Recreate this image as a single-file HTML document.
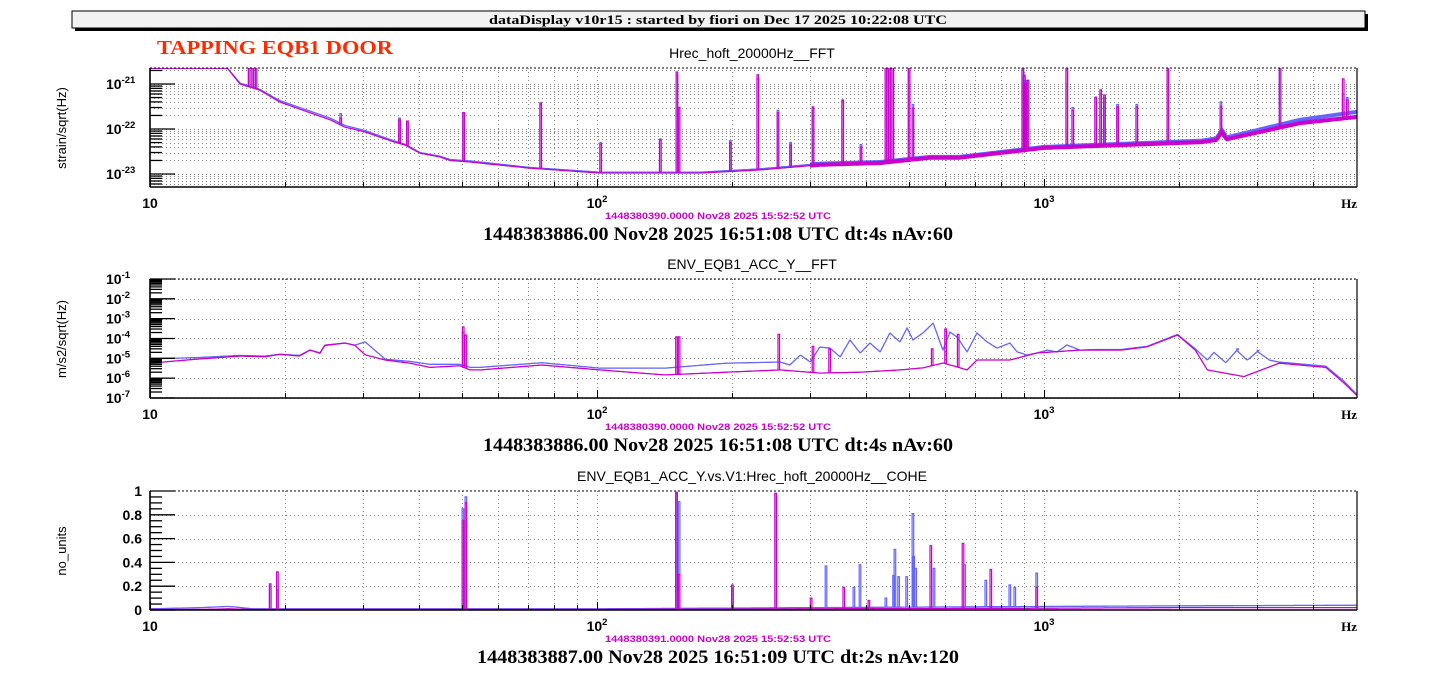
<!DOCTYPE html>
<html><head><meta charset="utf-8"><style>
html,body{margin:0;padding:0;background:#fff;}
svg{display:block;}
.ttl{font-family:"Liberation Sans",sans-serif;font-size:14px;fill:#000;}
.big{font-family:"Liberation Serif",serif;font-weight:bold;font-size:19px;fill:#000;}
.mag{font-family:"Liberation Sans",sans-serif;font-weight:bold;font-size:9.5px;fill:#cc00cc;}
.tl{font-family:"Liberation Sans",sans-serif;font-weight:bold;font-size:14px;fill:#000;}
.sup{font-size:9.5px;}
.yt{font-family:"Liberation Sans",sans-serif;font-size:13px;fill:#000;}
</style></head><body>
<svg id="chart" width="1436" height="675" viewBox="0 0 1436 675" xmlns="http://www.w3.org/2000/svg">
<g>
<rect x="75" y="14" width="1293" height="17" fill="#000"/>
<rect x="72" y="11" width="1293" height="17" fill="#f2f2f2" stroke="#000" stroke-width="1"/>
<text x="718" y="24" text-anchor="middle" font-family="Liberation Serif, serif" font-weight="bold" font-size="13" textLength="458" lengthAdjust="spacingAndGlyphs">dataDisplay v10r15 : started by fiori on Dec 17 2025 10:22:08 UTC</text>
</g>
<text x="157" y="54" font-family="Liberation Serif, serif" font-weight="bold" font-size="20" fill="#ff2a00" textLength="236" lengthAdjust="spacingAndGlyphs">TAPPING EQB1 DOOR</text>
<g id="plots"></g>
</svg>
<script>
// ---------- Panel 1: Hrec_hoft FFT (strain/sqrt(Hz)) ----------
const p1Freq=[10,14.9,15.9,17.6,19.5,22.8,25.3,27.3,30.3,32.7,35.3,37.2,40.2,44.5,46.9,52,54.8,70.7,101.5,170,231,315,430,556,646,1000,2250,2430,2500,2560,3740,5000];
const p1Mag=[2.25e-21,2.25e-21,1.0e-21,7.3e-22,4e-22,2.3e-22,1.6e-22,1.1e-22,8.6e-23,6.6e-23,5.1e-23,4.4e-23,2.9e-23,2.4e-23,2e-23,1.85e-23,1.75e-23,1.35e-23,1.05e-23,1.05e-23,1.23e-23,1.6e-23,1.75e-23,2.3e-23,2.3e-23,3.8e-23,5.1e-23,5.7e-23,8.6e-23,5.9e-23,1.35e-22,1.85e-22];
const p1Blue=[2.25e-21,2.25e-21,1.05e-21,7.6e-22,4.3e-22,2.5e-22,1.75e-22,1.2e-22,9.2e-23,7e-23,5.4e-23,4.6e-23,3.0e-23,2.5e-23,2.1e-23,1.95e-23,1.85e-23,1.4e-23,1.1e-23,1.1e-23,1.3e-23,1.7e-23,1.85e-23,2.4e-23,2.4e-23,4.0e-23,5.5e-23,6.2e-23,9.5e-23,6.5e-23,1.6e-22,2.4e-22];
const p1PeakFreq=[16.6,16.9,17.2,26.6,36,37.5,50.1,74.5,101.5,138,150.3,152,198,228,253,270,303,353,388,441,445,449,453,457,497,507,893,900,905,917,1120,1155,1300,1334,1360,1455,1606,1885,2477,3360,4650,4750];
const p1PeakMag=[2.25e-21,2.25e-21,2.25e-21,1.75e-22,1.6e-22,1.5e-22,2.3e-22,3.8e-22,4.6e-23,5.7e-23,1.85e-21,3e-22,5e-23,1.6e-21,2.3e-22,4.4e-23,3.1e-22,4.4e-22,4e-23,5e-21,5e-21,5e-21,5e-21,5e-21,5e-21,2.9e-22,2.05e-21,1.5e-21,1e-21,1.2e-21,5e-21,2.6e-22,5.1e-22,7.4e-22,5.7e-22,3.1e-22,3.1e-22,5e-21,3.2e-22,5e-21,1.3e-21,4.4e-22];
const p1PeakBlue=[2.25e-21,2.25e-21,2.25e-21,2.2e-22,1.75e-22,1.5e-22,2.3e-22,3.5e-22,5e-23,6e-23,1.6e-21,3e-22,5.5e-23,1.3e-21,2.6e-22,5e-23,2.8e-22,4.2e-22,4.5e-23,5e-21,5e-21,5e-21,5e-21,5e-21,5e-21,3.5e-22,2.2e-21,1.6e-21,1.2e-21,1.2e-21,4e-21,3e-22,5e-22,6e-22,5e-22,3.5e-22,3.5e-22,2e-21,4e-22,5e-21,6e-22,5e-22];
const p1YTicks=[-21,-22,-23];

// ---------- Panel 2: ENV_EQB1_ACC_Y FFT ----------
const p2MagFreq=[10,12.9,15.9,18.1,19.5,21.6,22.8,24.0,24.6,27.3,28.7,30.3,33.6,38.1,42.3,49.3,52,54.8,75.2,101.5,142,195,257,315,388,476,536,594,639,673,708,839,964,1204,1310,1490,1700,1990,2180,2320,2800,3360,4270,4690,5000];
const p2Mag=[5.7e-6,9.3e-6,1.3e-5,1.2e-5,1.6e-5,1.3e-5,2.6e-5,1.8e-5,4.6e-5,5.9e-5,4.6e-5,1.5e-5,8.2e-6,5.7e-6,3.5e-6,4.2e-6,2.6e-6,2.6e-6,4.6e-6,2.6e-6,1.45e-6,2e-6,2.6e-6,1.8e-6,2e-6,2.6e-6,3.3e-6,5.8e-6,3.7e-6,2.6e-6,8.2e-6,8.2e-6,1.85e-5,2.6e-5,2.6e-5,2.6e-5,3.8e-5,1.5e-4,2.6e-5,2.6e-6,1.2e-6,5.7e-6,3.5e-6,5.7e-7,1.4e-7];
const p2BlueFreq=[10,12.9,15.9,18.1,19.5,21.6,22.8,24.0,24.6,27.3,28.7,30.3,33.6,38.1,42.3,49.3,52,54.8,75.2,101.5,142,195,257,270,285,300,315,332,350,368,388,408,430,452,476,494,509,536,565,594,616,639,673,708,746,785,839,871,916,964,1016,1069,1126,1204,1310,1490,1700,1990,2180,2320,2400,2550,2700,2850,3000,3200,3360,4270,4690,5000];
const p2Blue=[9.3e-6,1.1e-5,1.4e-5,1.3e-5,1.6e-5,1.4e-5,2.6e-5,1.9e-5,4.4e-5,5.9e-5,4.6e-5,6.7e-5,9e-6,7e-6,5e-6,5e-6,3.5e-6,3.5e-6,6e-6,3.2e-6,3.2e-6,5.7e-6,6.5e-6,4.6e-6,1.47e-5,6.5e-6,3.7e-5,3.3e-5,1.17e-5,8.4e-5,1.85e-5,5.9e-5,2.1e-5,1.9e-4,6.7e-5,3.4e-4,8.4e-5,1.9e-4,6e-4,2.6e-5,2.1e-4,1.19e-4,2.1e-5,1.9e-4,6.7e-5,3.3e-5,5.9e-5,2.1e-5,1.47e-5,1.85e-5,2.6e-5,2.1e-5,4.7e-5,2.6e-5,2.8e-5,2.8e-5,4e-5,1.6e-4,3e-5,8.2e-6,2e-5,6e-6,2.5e-5,8e-6,2.2e-5,8e-6,6.5e-6,4e-6,7e-7,1.6e-7];
const p2MagPeakFreq=[50,50.7,150,152,254,303,330,560,600,640];
const p2MagPeakVal=[3.8e-4,1.5e-4,1.2e-4,1.2e-4,1.6e-4,4e-5,3e-5,3e-5,3e-4,1.6e-4];
const p2BluePeakFreq=[50,2700,3000];
const p2BluePeakVal=[2e-4,3e-5,2.5e-5];
const p2YTicks=[-1,-2,-3,-4,-5,-6,-7];

// ---------- Panel 3: coherence ----------
const p3Freq=[10,13,15,17,20,50,100,300,1000,2000,5000];
const p3Mag=[0.005,0.005,0.01,0.005,0.005,0.005,0.005,0.01,0.015,0.02,0.02];
const p3Blue=[0.01,0.02,0.03,0.01,0.01,0.01,0.01,0.02,0.03,0.035,0.04];
const p3MagPeakFreq=[18.5,19.2,49.9,50.7,150,152,200,250,300,355,404,556,656,757,959];
const p3MagPeakVal=[0.22,0.32,0.75,0.9,0.99,0.3,0.21,0.98,0.1,0.19,0.08,0.54,0.56,0.34,0.19];
const p3BluePeakFreq=[18.5,19.2,49.9,50.7,150,152,200,250,324,374,386,441,459,462,471,491,507,509,514,565,662,738,835,857,959];
const p3BluePeakVal=[0.2,0.17,0.85,0.95,0.98,0.91,0.18,0.98,0.37,0.19,0.38,0.1,0.29,0.51,0.28,0.28,0.81,0.45,0.35,0.35,0.38,0.25,0.21,0.19,0.31];
const p3YTicks=[0,0.2,0.4,0.6,0.8,1];

const BLUE='#6464ff', MAG='#cc00cc';
const X0=150, X1=1357, DEC=447;
const NS='http://www.w3.org/2000/svg';
function xOf(f){return X0+DEC*Math.log10(f/10);}
function fOf(x){return 10*Math.pow(10,(x-X0)/DEC);}
function interpLog(fr,vals,f,lin){
  if(f<=fr[0])return vals[0];
  for(let i=1;i<fr.length;i++){ if(f<=fr[i]){
    const t=(Math.log10(f)-Math.log10(fr[i-1]))/(Math.log10(fr[i])-Math.log10(fr[i-1]));
    if(lin) return vals[i-1]+t*(vals[i]-vals[i-1]);
    return Math.pow(10,Math.log10(vals[i-1])+t*(Math.log10(vals[i])-Math.log10(vals[i-1])));
  }}
  return vals[vals.length-1];
}
function el(tag,attrs,parent){const e=document.createElementNS(NS,tag);for(const k in attrs)e.setAttribute(k,attrs[k]);parent.appendChild(e);return e;}
const root=document.getElementById('plots');

function panel(cfg){
  const g=el('g',{},root);
  
  
  const top=cfg.top, bot=cfg.top+119;
  const cid='clip'+cfg.top;
  const cp=el('clipPath',{id:cid},g); el('rect',{x:X0,y:top,width:X1-X0,height:119},cp);
  const grid=el('g',{stroke:'#888','stroke-width':1,'stroke-dasharray':'1,3',fill:'none'},g);
  
  
  const xt=[];
  for(let d=10;d<=1000;d*=10)for(let m=1;m<10;m++){const f=d*m;if(f>10&&f<5000)xt.push(f);}
  xt.forEach(f=>{const x=Math.round(xOf(f))+0.5;el('line',{x1:x,y1:top,x2:x,y2:bot},grid);});
  cfg.hgrid.forEach(y=>{el('line',{x1:X0,y1:y,x2:X1,y2:y},grid);});
  const t=el('text',{x:752,y:top-10,'text-anchor':'middle',class:'ttl'},g);t.textContent=cfg.title;
  
  
  const yt=el('text',{x:0,y:0,'text-anchor':'middle',class:'yt',transform:`translate(66,${top+60}) rotate(-90)`},g);yt.textContent=cfg.ytitle;
  
  
  const sg=el('g',{'clip-path':`url(#${cid})`,fill:'none'},g);
  cfg.series.forEach(s=>{
    const fr=s.freq;
    let d='';
    for(let px=X0;px<=X1;px++){const v=interpLog(fr,s.base,fOf(px),cfg.lin);const y=cfg.y(v);d+=(d?'L':'M')+px+' '+y.toFixed(1);}
    const p=el('path',{d:d,stroke:s.color,'stroke-width':1.3},sg);
    
    
    if(cfg.thick){
      let d2='';
      for(let px=Math.round(xOf(300));px<=X1;px++){const v=interpLog(fr,s.base,fOf(px),cfg.lin);d2+=(d2?'L':'M')+px+' '+cfg.y(v).toFixed(1);}
      const p2=el('path',{d:d2,stroke:s.color,'stroke-width':4},sg);
      
      
    }
    let dp='';
    s.pf.forEach((f,i)=>{const x=xOf(f);const yb=cfg.y(interpLog(fr,s.base,f,cfg.lin));const yp=cfg.y(s.pv[i]);
      dp+=`M${x.toFixed(1)} ${yb.toFixed(1)}V${yp.toFixed(1)}H${(x+1.6).toFixed(1)}V${yb.toFixed(1)}`;});
    const pp=el('path',{d:dp,stroke:s.color,'stroke-width':1.2},sg);
    
    
  });
  const frm=el('g',{},g);
  
  
  el('line',{x1:X0,y1:top,x2:X1,y2:top,stroke:'#000','stroke-width':1,'stroke-dasharray':'2,2'},frm);
  el('line',{x1:X1,y1:top,x2:X1,y2:bot,stroke:'#000','stroke-width':1.2},frm);
  el('line',{x1:X0,y1:bot,x2:X1,y2:bot,stroke:'#000','stroke-width':1.6},frm);
  el('line',{x1:X0,y1:top,x2:X0,y2:bot,stroke:'#000','stroke-width':1.6},frm);
  const xa=el('g',{stroke:'#000','stroke-width':1},g);
  
  
  xt.concat([10]).forEach(f=>{const x=Math.round(xOf(f))+0.5;const major=[10,100,1000].includes(f);el('line',{x1:x,y1:bot,x2:x,y2:bot-(major?8:5)},xa);});
  const labs=[[10,'10',''],[100,'10','2'],[1000,'10','3']];
  labs.forEach(l=>{const tx=el('text',{x:xOf(l[0]),y:bot+21,'text-anchor':'middle',class:'tl'},g);
    
    
    const a=el('tspan',{},tx);a.textContent=l[1];
    if(l[2]){const b=el('tspan',{class:'sup',dy:-6},tx);b.textContent=l[2];}});
  const hz=el('text',{x:X1,y:bot+21,'text-anchor':'end','font-family':'Liberation Serif, serif','font-weight':'bold','font-size':13},g);hz.textContent='Hz';
  
  
  const ya=el('g',{stroke:'#000','stroke-width':1.3},g);
  
  
  cfg.ymajor.forEach(y=>el('line',{x1:X0,y1:y,x2:X0+25,y2:y},ya));
  cfg.yminor.forEach(y=>el('line',{x1:X0,y1:y,x2:X0+12,y2:y},ya));
  cfg.ylabels.forEach(l=>{const tx=el('text',{x:142,y:l.y+5,'text-anchor':'end',class:'tl'},g);
    
    
    if(l.sup){tx.setAttribute('x',106);tx.setAttribute('text-anchor','start');const a=el('tspan',{},tx);a.textContent='10';const b=el('tspan',{class:'sup',dy:-6},tx);b.textContent=l.sup;}
    else tx.textContent=l.text;});
  const m=el('text',{x:718,y:bot+32,'text-anchor':'middle',class:'mag',textLength:226,lengthAdjust:'spacingAndGlyphs'},g);m.textContent=cfg.gps;
  
  
  const b=el('text',{x:718,y:bot+53,'text-anchor':'middle',class:'big',textLength:cfg.bigLen,lengthAdjust:'spacingAndGlyphs'},g);b.textContent=cfg.stamp;
  
  
}

const y1=v=>84+45*(-21-Math.log10(v));
(function(){
  const maj=[],min=[],hg=[];
  p1YTicks.forEach(e=>maj.push(y1(Math.pow(10,e))));
  for(let e=-24;e<=-21;e++)for(let k=2;k<10;k++){const y=y1(k*Math.pow(10,e));if(y>68&&y<187){min.push(y);hg.push(Math.round(y)+0.5);}}
  maj.forEach(y=>hg.push(Math.round(y)+0.5));
  panel({name:'hrec-fft-panel',top:68,title:'Hrec_hoft_20000Hz__FFT',ytitle:'strain/sqrt(Hz)',y:y1,thick:true,
    series:[{name:'blue-series',color:BLUE,freq:p1Freq,base:p1Blue,pf:p1PeakFreq,pv:p1PeakBlue},{name:'magenta-series',color:MAG,freq:p1Freq,base:p1Mag,pf:p1PeakFreq,pv:p1PeakMag}],
    hgrid:hg,ymajor:maj,yminor:min,ylabels:p1YTicks.map(e=>({y:y1(Math.pow(10,e)),sup:String(e)})),
    gps:'1448380390.0000 Nov28 2025 15:52:52 UTC',stamp:'1448383886.00 Nov28 2025 16:51:08 UTC dt:4s nAv:60',bigLen:470});
})();
const y2=v=>279+19.83*(-1-Math.log10(v));
(function(){
  const maj=[],min=[],hg=[];
  p2YTicks.forEach(e=>{const y=y2(Math.pow(10,e));maj.push(y);hg.push(Math.round(y)+0.5);});
  for(let e=-7;e<=-2;e++)for(let k=2;k<10;k++){min.push(y2(k*Math.pow(10,e)));}
  panel({name:'acc-fft-panel',top:279,title:'ENV_EQB1_ACC_Y__FFT',ytitle:'m/s2/sqrt(Hz)',y:y2,
    series:[{name:'blue-series',color:BLUE,freq:p2BlueFreq,base:p2Blue,pf:p2BluePeakFreq,pv:p2BluePeakVal},{name:'magenta-series',color:MAG,freq:p2MagFreq,base:p2Mag,pf:p2MagPeakFreq,pv:p2MagPeakVal}],
    hgrid:hg,ymajor:maj,yminor:min,ylabels:p2YTicks.map(e=>({y:y2(Math.pow(10,e)),sup:String(e)})),
    gps:'1448380390.0000 Nov28 2025 15:52:52 UTC',stamp:'1448383886.00 Nov28 2025 16:51:08 UTC dt:4s nAv:60',bigLen:470});
})();
const y3=v=>610-119*v;
(function(){
  const maj=[],min=[],hg=[];
  p3YTicks.forEach(v=>{const y=y3(v);maj.push(y);if(v>0&&v<1)hg.push(Math.round(y)+0.5);});
  for(let k=1;k<20;k++){if(k%4)min.push(y3(k*0.05));}
  panel({name:'coherence-panel',top:491,title:'ENV_EQB1_ACC_Y.vs.V1:Hrec_hoft_20000Hz__COHE',ytitle:'no_units',y:y3,lin:true,
    series:[{name:'blue-series',color:BLUE,freq:p3Freq,base:p3Blue,pf:p3BluePeakFreq,pv:p3BluePeakVal},{name:'magenta-series',color:MAG,freq:p3Freq,base:p3Mag,pf:p3MagPeakFreq,pv:p3MagPeakVal}],
    hgrid:hg,ymajor:maj,yminor:min,ylabels:p3YTicks.map(v=>({y:y3(v),text:String(v)})),
    gps:'1448380391.0000 Nov28 2025 15:52:53 UTC',stamp:'1448383887.00 Nov28 2025 16:51:09 UTC dt:2s nAv:120',bigLen:482});
})();
</script>
</body></html>
